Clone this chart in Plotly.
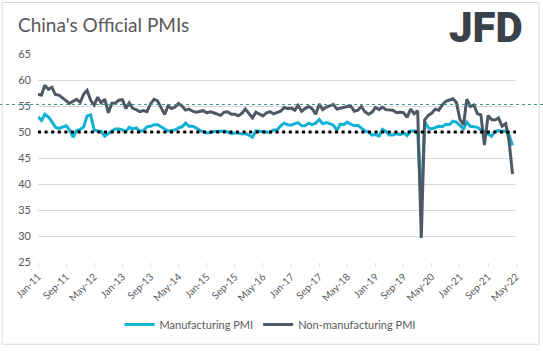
import pandas as pd
import plotly.graph_objects as go

manufacturing = [
    52.9, 52.2, 53.4, 52.9, 52.0, 50.9, 50.7, 50.9, 51.2, 50.4, 49.0, 50.3,
    50.5, 51.0, 53.1, 53.3, 50.4, 50.2, 50.1, 49.2, 49.8, 50.2, 50.6, 50.6,
    50.4, 50.1, 50.9, 50.6, 50.8, 50.1, 50.3, 51.0, 51.1, 51.4, 51.4, 51.0,
    50.5, 50.2, 50.3, 50.4, 50.8, 51.0, 51.7, 51.1, 51.1, 50.8, 50.3, 50.1,
    49.8, 49.9, 50.1, 50.1, 50.2, 50.2, 50.0, 49.7, 49.8, 49.8, 49.6, 49.7,
    49.4, 49.0, 50.2, 50.1, 50.1, 50.0, 49.9, 50.4, 50.4, 51.2, 51.7, 51.4,
    51.3, 51.6, 51.8, 51.2, 51.2, 51.7, 51.4, 51.7, 52.4, 51.6, 51.8, 51.6,
    51.3, 50.3, 51.5, 51.4, 51.9, 51.5, 51.2, 51.3, 50.8, 50.2, 50.0, 49.4,
    49.5, 49.2, 50.5, 50.1, 49.4, 49.4, 49.7, 49.5, 49.8, 49.3, 50.2, 50.2,
    50.0, 35.7, 52.0, 50.8, 50.6, 50.9, 51.1, 51.0, 51.5, 51.4, 52.1, 51.9,
    51.3, 50.6, 51.9, 51.1, 51.0, 50.9, 50.4, 50.1, 49.6, 49.2, 50.1, 50.3,
    50.1, 50.2, 49.5, 47.4,
]

non_manufacturing = [
    57.2, 57.1, 59.0, 58.2, 58.6, 57.2, 57.1, 56.5, 56.0, 55.5, 55.9, 56.3,
    55.7, 57.3, 58.0, 56.1, 55.2, 56.7, 55.6, 56.3, 53.7, 55.5, 55.6, 56.1,
    56.2, 54.5, 55.6, 54.5, 54.3, 53.9, 54.1, 53.9, 55.4, 56.3, 56.0, 54.6,
    53.4, 55.0, 54.5, 54.8, 55.5, 55.0, 54.2, 54.4, 54.0, 53.8, 53.9, 54.1,
    53.7, 53.9, 53.7, 53.4, 53.2, 53.8, 53.9, 53.4, 53.4, 53.1, 53.6, 54.4,
    53.5, 52.7, 53.8, 53.5, 53.1, 53.7, 53.9, 53.5, 53.7, 54.0, 54.7, 54.5,
    54.6, 54.2, 55.1, 54.0, 54.5, 54.9, 54.5, 53.4, 55.4, 54.3, 54.8, 55.0,
    55.3, 54.4, 54.6, 54.8, 54.9, 55.0, 54.0, 54.2, 54.9, 53.9, 53.4, 53.8,
    54.7, 54.3, 54.8, 54.3, 54.3, 54.2, 53.7, 53.8, 53.7, 52.8, 54.4, 53.5,
    54.1, 29.6, 52.3, 53.2, 53.6, 54.4, 54.2, 55.2, 55.9, 56.2, 56.4, 55.7,
    52.4, 51.4, 56.3, 54.9, 55.2, 53.5, 53.3, 47.5, 53.2, 52.4, 52.3, 52.7,
    51.1, 51.6, 48.4, 41.9,
]

start_month = "2011-01-01"
end_month = "2022-05-01"
threshold = 50
y_ticks = [25, 30, 35, 40, 45, 50, 55, 60, 65]

dates = pd.date_range(start_month, periods=len(manufacturing), freq="MS")

GREY_TXT = "#595959"
GRID = "#D9D9D9"
FONT = "Lato"

fig = go.Figure()
fig.add_trace(go.Scatter(x=dates, y=manufacturing, mode="lines", name="Manufacturing PMI",
                         line=dict(color="#14B1D6", width=3)))
fig.add_trace(go.Scatter(x=dates, y=non_manufacturing, mode="lines", name="Non-manufacturing PMI",
                         line=dict(color="#4F5965", width=3)))

# threshold dotted line at 50
fig.add_shape(type="line", xref="x", yref="y", x0=start_month, x1=end_month, y0=threshold, y1=threshold,
              line=dict(color="black", width=3, dash="3px,3.6px"))

# decorative teal dotted separator
fig.add_shape(type="line", xref="paper", yref="y", x0=-38/478, x1=505/478, y0=55.3, y1=55.3,
              line=dict(color="#2E9488", width=1, dash="dot"))

# outer frame
fig.add_shape(type="rect", xref="paper", yref="paper", x0=-36/478, x1=501/478,
              y0=(264-347)/210, y1=(264-2)/210, line=dict(color=GRID, width=1))

fig.add_annotation(text="JFD", xref="paper", yref="paper", x=(486-38)/478, y=(264-27)/210,
                   showarrow=False, xanchor="center", yanchor="middle",
                   font=dict(family="Roboto", size=42, color="#3A4149", weight=900))

fig.update_layout(
    width=543, height=351,
    margin=dict(l=38, r=27, t=54, b=87),
    paper_bgcolor="white", plot_bgcolor="white",
    font=dict(family=FONT, color=GREY_TXT, size=11),
    title=dict(text="China's Official PMIs", xref="container", yref="container",
               x=18/543, y=1-25/351, xanchor="left", yanchor="middle",
               font=dict(family=FONT, size=19, color=GREY_TXT)),
    showlegend=True,
    legend=dict(orientation="h", x=(270-38)/478, xanchor="center", y=(264-327)/210, yanchor="middle",
                font=dict(family=FONT, size=11, color=GREY_TXT), itemwidth=30,
                bgcolor="rgba(0,0,0,0)"),
    xaxis=dict(type="date", range=[start_month, end_month], tick0=start_month, dtick="M8",
               tickformat="%b-%y", tickangle=-45, ticks="outside", ticklen=4, tickcolor=GRID,
               showgrid=False, showline=False, zeroline=False,
               tickfont=dict(family=FONT, size=10, color=GREY_TXT)),
    yaxis=dict(range=[25, 65], tickvals=y_ticks, showgrid=True, gridcolor=GRID, gridwidth=1,
               zeroline=False, showline=False, ticks="", ticklabelstandoff=6,
               tickfont=dict(family=FONT, size=11, color=GREY_TXT)),
)

fig.write_html("out.html")
